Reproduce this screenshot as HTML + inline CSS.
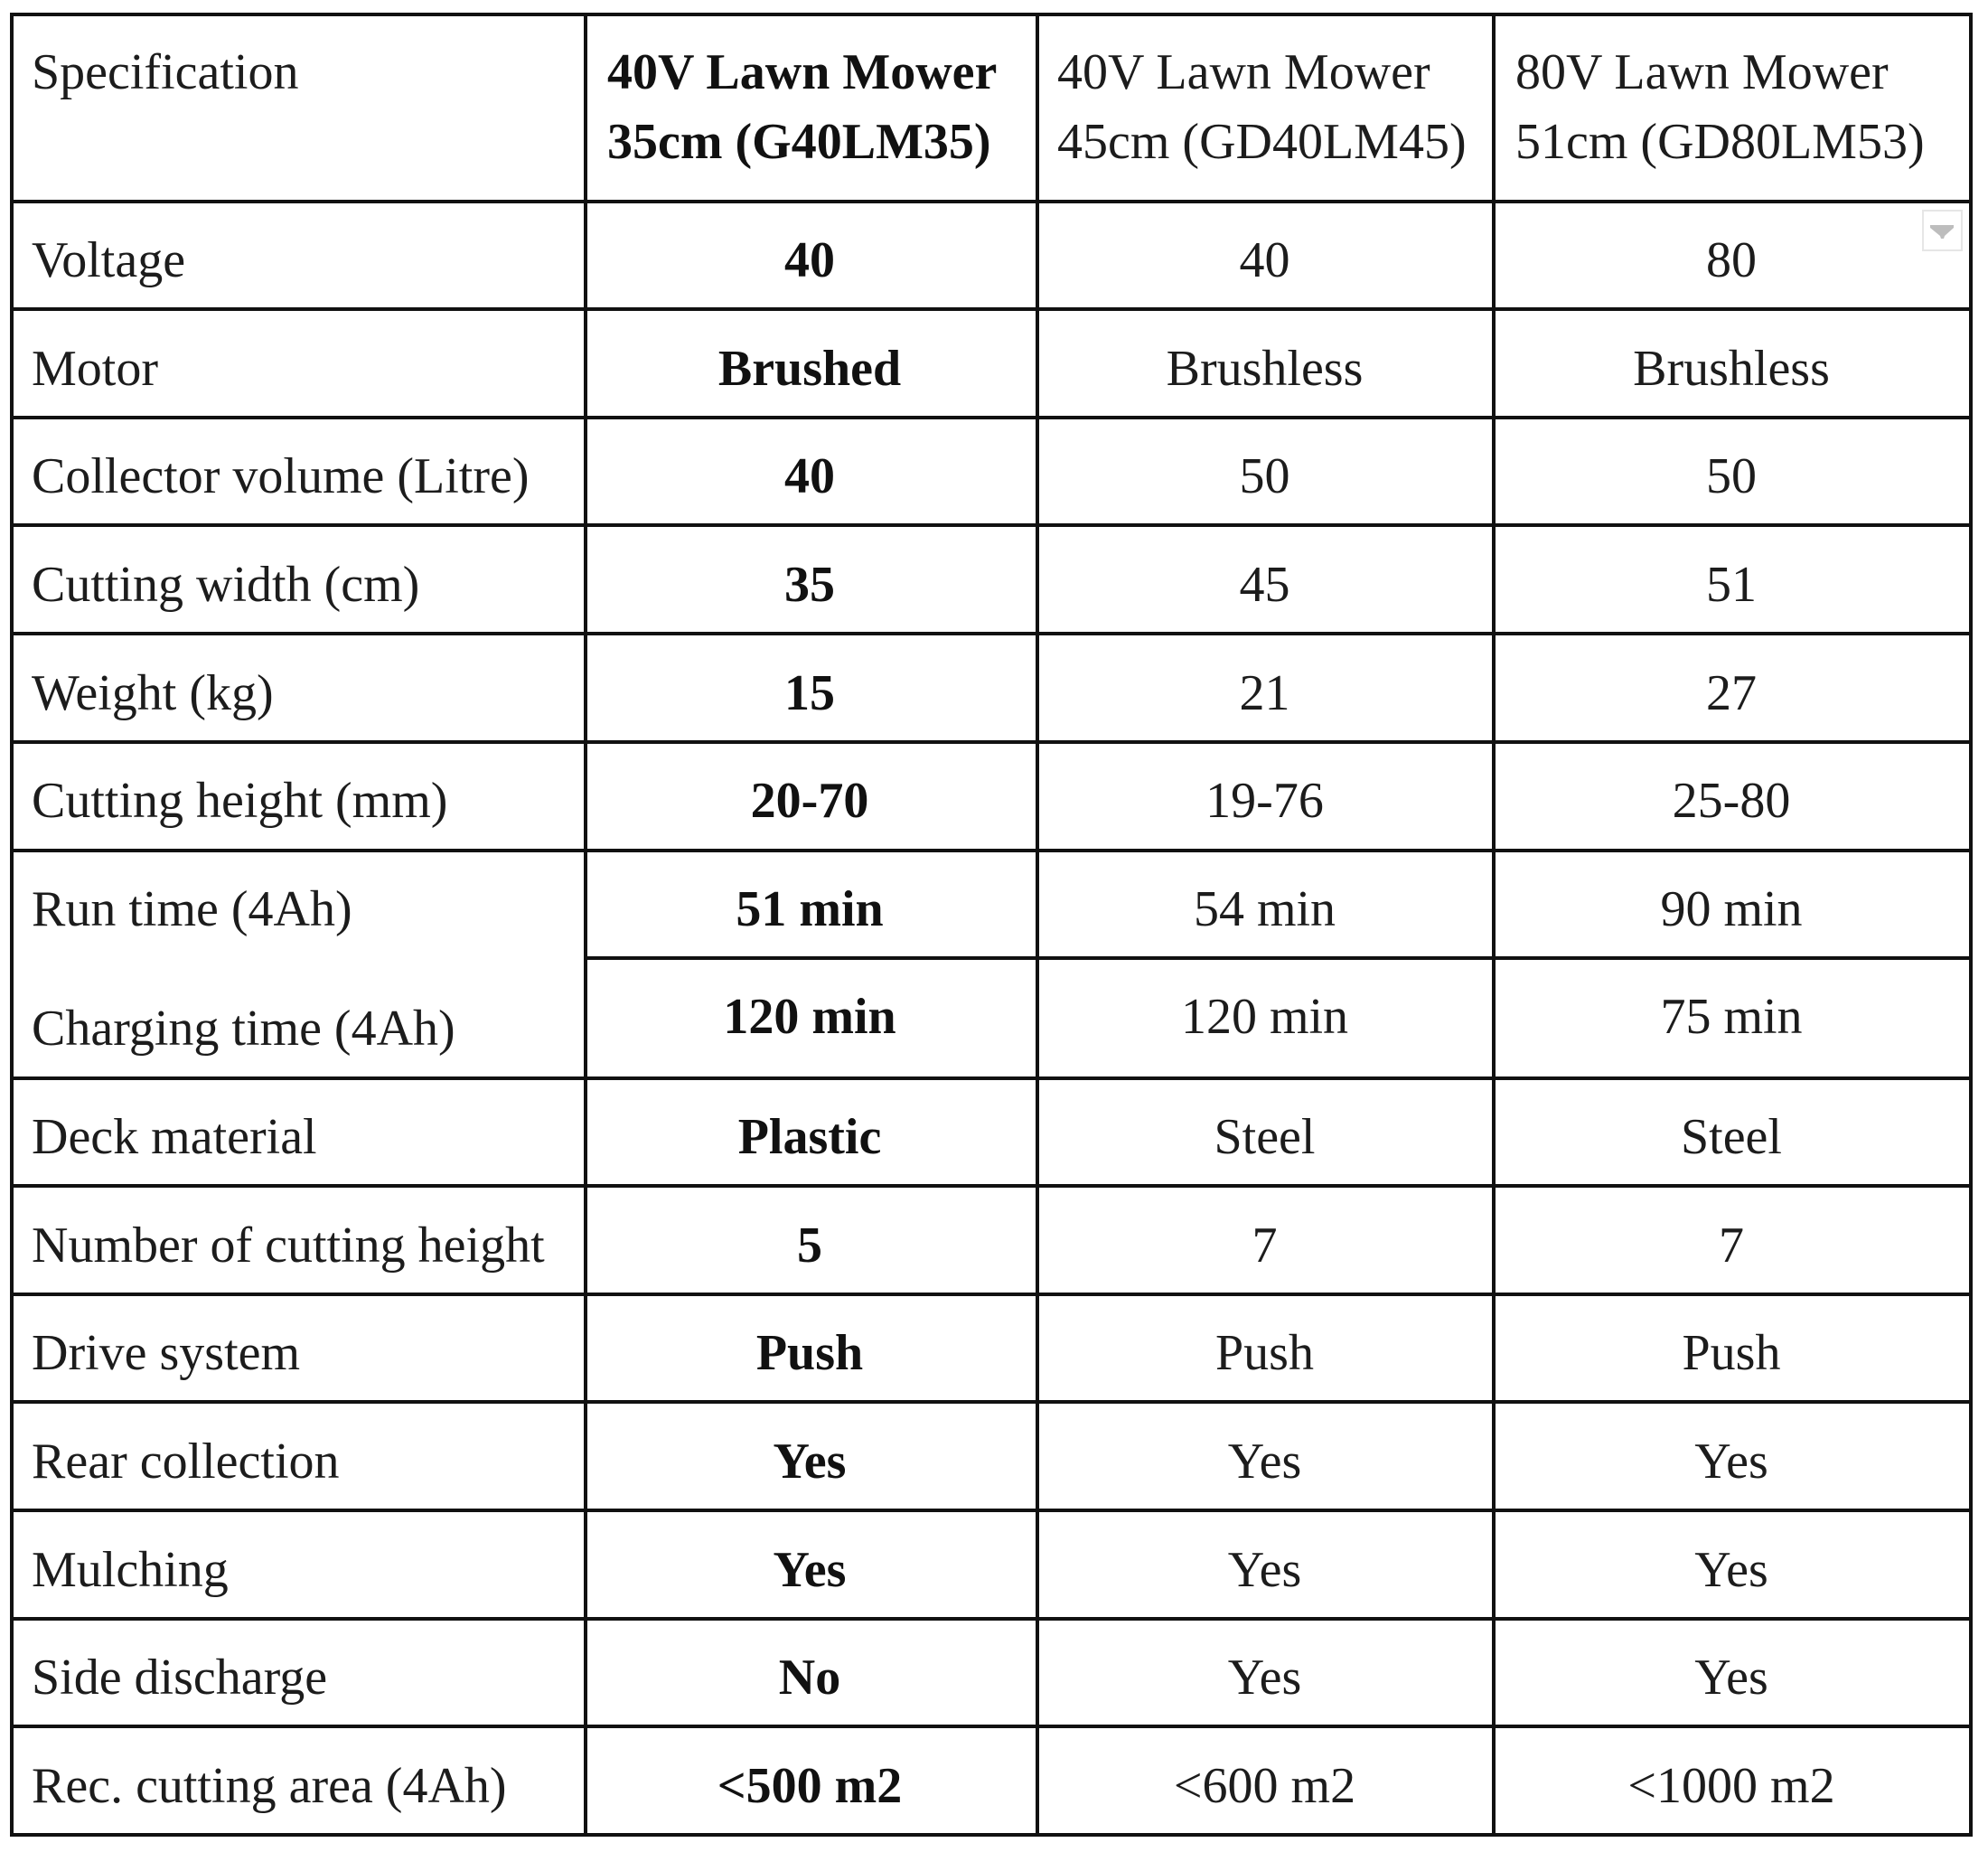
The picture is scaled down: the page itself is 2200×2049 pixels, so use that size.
<!DOCTYPE html>
<html>
<head>
<meta charset="utf-8">
<style>
  html,body{margin:0;padding:0;background:#fff;}
  body{width:2200px;height:2049px;position:relative;overflow:hidden;}
  .h{position:absolute;background:#111;height:4px;}
  .v{position:absolute;background:#111;width:4px;}
  .t{position:absolute;font-family:"Liberation Serif","Times New Roman",serif;font-size:56px;line-height:60px;height:60px;white-space:nowrap;color:#1c1c1c;}
  .c2{left:648px;width:496px;text-align:center;font-weight:bold;color:#111;}
  .c3{left:1149px;width:501px;text-align:center;}
  .c4{left:1654px;width:524px;text-align:center;}
  .l{left:35px;}
  .b{font-weight:bold;color:#111;}
</style>
</head>
<body>
<!-- horizontal lines -->
<div class="h" style="left:11px;width:2172px;top:14px;"></div>
<div class="h" style="left:11px;width:2172px;top:221px;"></div>
<div class="h" style="left:11px;width:2172px;top:340px;"></div>
<div class="h" style="left:11px;width:2172px;top:460px;"></div>
<div class="h" style="left:11px;width:2172px;top:579px;"></div>
<div class="h" style="left:11px;width:2172px;top:699px;"></div>
<div class="h" style="left:11px;width:2172px;top:819px;"></div>
<div class="h" style="left:11px;width:2172px;top:939px;"></div>
<div class="h" style="left:648px;width:1535px;top:1058px;"></div>
<div class="h" style="left:11px;width:2172px;top:1191px;"></div>
<div class="h" style="left:11px;width:2172px;top:1310px;"></div>
<div class="h" style="left:11px;width:2172px;top:1430px;"></div>
<div class="h" style="left:11px;width:2172px;top:1549px;"></div>
<div class="h" style="left:11px;width:2172px;top:1669px;"></div>
<div class="h" style="left:11px;width:2172px;top:1789px;"></div>
<div class="h" style="left:11px;width:2172px;top:1908px;"></div>
<div class="h" style="left:11px;width:2172px;top:2028px;"></div>
<!-- vertical lines -->
<div class="v" style="left:11px;top:14px;height:2018px;"></div>
<div class="v" style="left:646px;top:14px;height:2018px;"></div>
<div class="v" style="left:1146px;top:14px;height:2018px;"></div>
<div class="v" style="left:1651px;top:14px;height:2018px;"></div>
<div class="v" style="left:2179px;top:14px;height:2018px;"></div>

<!-- header -->
<div class="t l" style="top:50px;">Specification</div>
<div class="t b" style="left:672px;top:50px;">40V Lawn Mower</div>
<div class="t b" style="left:672px;top:127px;">35cm (G40LM35)</div>
<div class="t" style="left:1170px;top:50px;">40V Lawn Mower</div>
<div class="t" style="left:1170px;top:127px;">45cm (GD40LM45)</div>
<div class="t" style="left:1677px;top:50px;">80V Lawn Mower</div>
<div class="t" style="left:1677px;top:127px;">51cm (GD80LM53)</div>

<!-- dropdown icon -->
<svg style="position:absolute;left:2127px;top:232px;" width="45" height="46" viewBox="0 0 45 46">
  <rect x="1" y="1" width="43" height="44" fill="#fff" stroke="#e6e6e6" stroke-width="2"/>
  <polygon points="9,17 35,17 35,20 25,29 24,32 21,32 20,29 9,20" fill="#bdbdbd"/>
</svg>

<!-- rows -->
<div class="t l" style="top:258px;">Voltage</div>
<div class="t c2" style="top:258px;">40</div>
<div class="t c3" style="top:258px;">40</div>
<div class="t c4" style="top:258px;">80</div>

<div class="t l" style="top:378px;">Motor</div>
<div class="t c2" style="top:378px;">Brushed</div>
<div class="t c3" style="top:378px;">Brushless</div>
<div class="t c4" style="top:378px;">Brushless</div>

<div class="t l" style="top:497px;">Collector volume (Litre)</div>
<div class="t c2" style="top:497px;">40</div>
<div class="t c3" style="top:497px;">50</div>
<div class="t c4" style="top:497px;">50</div>

<div class="t l" style="top:617px;">Cutting width (cm)</div>
<div class="t c2" style="top:617px;">35</div>
<div class="t c3" style="top:617px;">45</div>
<div class="t c4" style="top:617px;">51</div>

<div class="t l" style="top:737px;">Weight (kg)</div>
<div class="t c2" style="top:737px;">15</div>
<div class="t c3" style="top:737px;">21</div>
<div class="t c4" style="top:737px;">27</div>

<div class="t l" style="top:856px;">Cutting height (mm)</div>
<div class="t c2" style="top:856px;">20-70</div>
<div class="t c3" style="top:856px;">19-76</div>
<div class="t c4" style="top:856px;">25-80</div>

<div class="t l" style="top:976px;">Run time (4Ah)</div>
<div class="t c2" style="top:976px;">51 min</div>
<div class="t c3" style="top:976px;">54 min</div>
<div class="t c4" style="top:976px;">90 min</div>

<div class="t l" style="top:1108px;">Charging time (4Ah)</div>
<div class="t c2" style="top:1095px;">120 min</div>
<div class="t c3" style="top:1095px;">120 min</div>
<div class="t c4" style="top:1095px;">75 min</div>

<div class="t l" style="top:1228px;">Deck material</div>
<div class="t c2" style="top:1228px;">Plastic</div>
<div class="t c3" style="top:1228px;">Steel</div>
<div class="t c4" style="top:1228px;">Steel</div>

<div class="t l" style="top:1348px;">Number of cutting height</div>
<div class="t c2" style="top:1348px;">5</div>
<div class="t c3" style="top:1348px;">7</div>
<div class="t c4" style="top:1348px;">7</div>

<div class="t l" style="top:1467px;">Drive system</div>
<div class="t c2" style="top:1467px;">Push</div>
<div class="t c3" style="top:1467px;">Push</div>
<div class="t c4" style="top:1467px;">Push</div>

<div class="t l" style="top:1587px;">Rear collection</div>
<div class="t c2" style="top:1587px;">Yes</div>
<div class="t c3" style="top:1587px;">Yes</div>
<div class="t c4" style="top:1587px;">Yes</div>

<div class="t l" style="top:1707px;">Mulching</div>
<div class="t c2" style="top:1707px;">Yes</div>
<div class="t c3" style="top:1707px;">Yes</div>
<div class="t c4" style="top:1707px;">Yes</div>

<div class="t l" style="top:1826px;">Side discharge</div>
<div class="t c2" style="top:1826px;">No</div>
<div class="t c3" style="top:1826px;">Yes</div>
<div class="t c4" style="top:1826px;">Yes</div>

<div class="t l" style="top:1946px;">Rec. cutting area (4Ah)</div>
<div class="t c2" style="top:1946px;">&lt;500 m2</div>
<div class="t c3" style="top:1946px;">&lt;600 m2</div>
<div class="t c4" style="top:1946px;">&lt;1000 m2</div>
</body>
</html>
